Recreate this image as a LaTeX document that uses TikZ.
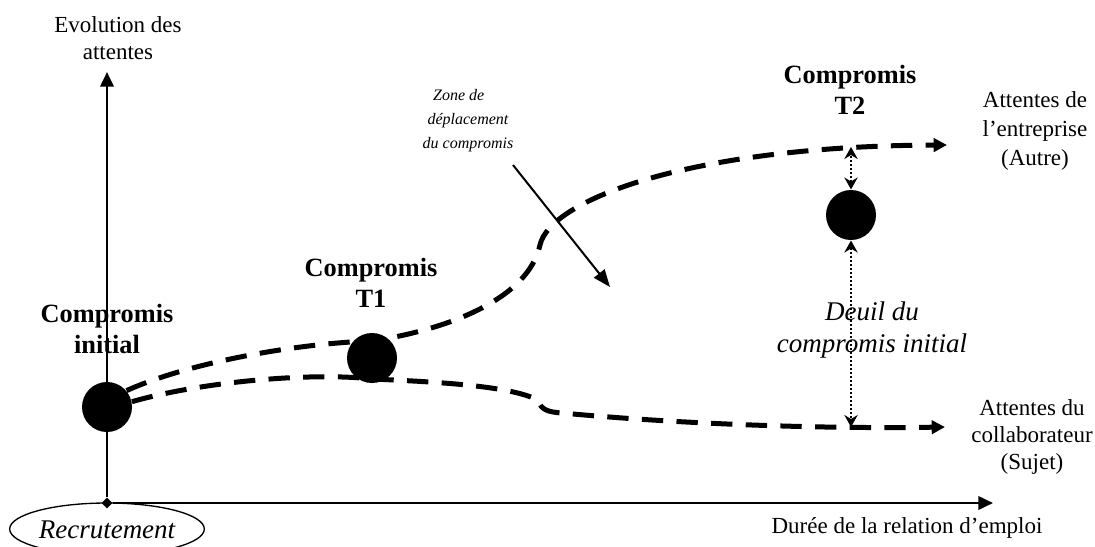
\documentclass[tikz,border=0pt]{standalone}
\usepackage{fontspec}
\setmainfont{Liberation Serif}
\usetikzlibrary{arrows.meta,shapes.geometric}
\tikzset{every picture/.style={line width=0.75pt}}
\tikzset{
  bigdot/.style={circle, fill=black, inner sep=0pt, minimum size=37.5pt},
  axisline/.style={line width=2pt, -{Triangle[length=11pt,width=10pt]}},
  expect/.style={line width=3.75pt, dash pattern=on 16pt off 10pt, -{Triangle[length=10pt,width=10pt]}},
  deuil/.style={line width=1.5pt, dash pattern=on 1.5pt off 1.5pt, {Stealth[length=9pt,width=10pt,inset=3pt]}-{Stealth[length=9pt,width=10pt,inset=3pt]}},
  pointer/.style={line width=1.5pt, -{Triangle[length=13pt,width=10pt]}},
  plain/.style={inner sep=0.75pt, align=center, font=\fontsize{17.25}{20.25}\selectfont},
  boldlbl/.style={inner sep=0.75pt, align=center, font=\fontsize{19.75}{23.25}\selectfont\bfseries},
  itlbl/.style={inner sep=0.75pt, align=center, font=\fontsize{20.25}{23.5}\selectfont\itshape},
  smallit/.style={inner sep=0.75pt, align=center, font=\fontsize{12}{18}\selectfont\itshape}
}

\begin{document}
\begin{tikzpicture}[x=0.75pt,y=0.75pt,yscale=-1,xscale=1]
\useasboundingbox (0,0) rectangle (1095,546);

%Shape: Diamond (origin)
\draw (107,503) node (o) [diamond, fill=black, inner sep=0pt, minimum size=8.5pt] {};
\coordinate (yend) at (107,72);
\coordinate (xend) at (993,503);
%Shape: Ellipse
\draw (107,529) node (rec) [ellipse, draw, line width=1pt, inner sep=0pt, minimum width=146pt, minimum height=39pt] {};
%Straight Lines (axes)
\draw [axisline] (o) -- (yend);
\draw [axisline] (o) -- (xend);

%Shape: Circle
\draw (107,407) node (ini) [bigdot] {};
%Shape: Circle
\draw (372,358) node (t1) [bigdot] {};
%Shape: Circle
\draw (851,215) node (t2) [bigdot] {};

\coordinate (ent) at (947,145);
\coordinate (col) at (945,427);
\coordinate (enttop) at (851,147);
\coordinate (colbot) at (851,427);
\coordinate (zs) at (513,165);
\coordinate (ze) at (610,287);

%Curve Lines (entreprise)
\draw [expect] (ini.40) .. controls (190,362) and (300,343) .. (372,341) .. controls (445,330) and (528,300) .. (540,245) .. controls (550,200) and (690,146) .. (ent);
%Curve Lines (collaborateur)
\draw [expect] (ini.12) .. controls (200,382) and (310,372) .. (372,379) .. controls (440,382) and (510,386) .. (538,400) .. controls (541,410) and (548,412) .. (562,413) .. controls (680,424) and (820,429) .. (col);

%Straight Lines
\draw [pointer] (zs) -- (ze);
%Straight Lines
\draw [deuil] (t2.north) -- (enttop);
\draw [deuil] (t2.south) -- (colbot);

% Text Node
\draw (118,38) node (yl) [plain] {Evolution des\\attentes};
% Text Node
\draw (907,528) node (xl) [plain] {Durée de la relation d’emploi};
% Text Node
\draw (107,530) node (recl) [itlbl] {Recrutement};
% Text Node
\draw (107,329) node (cini) [boldlbl] {Compromis\\initial};
% Text Node
\draw (371,283) node (ct1) [boldlbl] {Compromis\\T1};
% Text Node
\draw (850,90) node (ct2) [boldlbl] {Compromis\\T2};
% Text Node
\draw (1035,131) node (entl) [plain, font=\fontsize{17.25}{21.75}\selectfont] {Attentes de\\l’entreprise\\(Autre)};
% Text Node
\draw (1032,437) node (coll) [plain] {Attentes du\\collaborateur\\(Sujet)};
% Text Node
\draw (468,121) node (zone) [smallit] {Zone de\hspace*{14pt}\\déplacement\\du compromis};
% Text Node
\draw (872,330) node (dl) [itlbl] {Deuil du\\compromis initial};

\end{tikzpicture}
\end{document}
